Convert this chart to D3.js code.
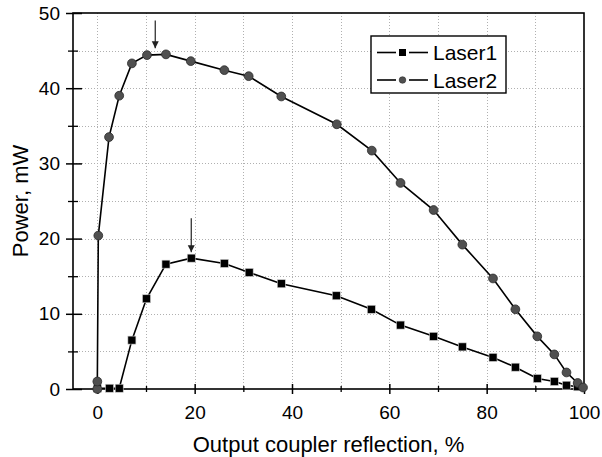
<!DOCTYPE html>
<html><head><meta charset="utf-8">
<script src="https://cdn.jsdelivr.net/npm/d3@7"></script>
<style>
html,body{margin:0;padding:0;background:#fff;}
svg{display:block;font-family:"Liberation Sans",Arial,sans-serif;}
</style></head>
<body><svg id="c" width="602" height="457"></svg>
<script>
const laser1X = [0, 2.5, 4.5, 7.1, 10.1, 14.1, 19.3, 26.1, 31.2, 37.8, 49.1, 56.3, 62.3, 69.1, 75.0, 81.3, 85.9, 90.4, 93.9, 96.4, 98.7];
const laser1Y = [0.1, 0.1, 0.1, 6.5, 12.0, 16.6, 17.4, 16.7, 15.5, 14.0, 12.4, 10.6, 8.5, 7.0, 5.6, 4.2, 2.9, 1.4, 1.0, 0.5, 0.3];
const laser2X = [0, 0, 0.2, 2.4, 4.5, 7.1, 10.2, 14.1, 19.2, 26.1, 31.1, 37.8, 49.2, 56.4, 62.3, 69.1, 75.0, 81.3, 85.9, 90.4, 93.9, 96.4, 98.7, 99.8];
const laser2Y = [0, 1.0, 20.4, 33.5, 39.0, 43.3, 44.4, 44.5, 43.6, 42.4, 41.6, 38.9, 35.2, 31.7, 27.4, 23.8, 19.2, 14.7, 10.6, 7.0, 4.6, 2.2, 0.8, 0.2];
const seriesNames = ["Laser1", "Laser2"];
const xTicks = [0, 20, 40, 60, 80, 100];
const xMinor = [-5, 10, 30, 50, 70, 90];
const yTicks = [0, 10, 20, 30, 40, 50];
const yMinor = [5, 15, 25, 35, 45];
const arrowX = [11.9, 19.3];
const arrowTop = [49.0, 22.7];
const arrowBottom = [45.3, 18.2];
const xTitle = "Output coupler reflection, %";
const yTitle = "Power, mW";

const svg = d3.select("#c");
const L = 73, R = 584, T = 13, B = 389;
const x = d3.scaleLinear().domain([-5, 100]).range([L, R]);
const y = d3.scaleLinear().domain([0, 50]).range([B, T]);

const defs = svg.append("defs");
defs.append("marker").attr("id","ah").attr("viewBox","0 0 10 10").attr("refX",10).attr("refY",5)
  .attr("markerWidth",7).attr("markerHeight",9).attr("markerUnits","userSpaceOnUse").attr("orient","auto")
  .append("path").attr("d","M0,0L10,5L0,10Z").attr("fill","#222");

// grid
const grid = svg.append("g").attr("stroke","#b0b0b0").attr("stroke-width",1).attr("stroke-dasharray","1,2");
d3.range(0, 100, 10).forEach(v => grid.append("line").attr("x1",Math.round(x(v))+0.5).attr("x2",Math.round(x(v))+0.5).attr("y1",T).attr("y2",B));
d3.range(5, 50, 5).forEach(v => grid.append("line").attr("y1",Math.round(y(v))+0.5).attr("y2",Math.round(y(v))+0.5).attr("x1",L).attr("x2",R));

// frame
svg.append("rect").attr("x",L).attr("y",T).attr("width",R-L).attr("height",B-T)
  .attr("fill","none").attr("stroke","#000").attr("stroke-width",1.6);

// axes ticks via d3 axes
const xAx = svg.append("g").attr("transform",`translate(0,${B})`)
  .call(d3.axisBottom(x).tickValues(xTicks).tickSize(5).tickSizeInner(5).tickPadding(12).tickFormat(d3.format("d")));
xAx.select(".domain").remove();
xAx.selectAll(".tick line").attr("y1",-5).attr("y2",5).attr("stroke-width",1.5);
xAx.selectAll("text").attr("font-size",19).attr("fill","#000").attr("font-family","Liberation Sans, Arial, sans-serif");
const xAxm = svg.append("g").attr("transform",`translate(0,${B})`)
  .call(d3.axisBottom(x).tickValues(xMinor.filter(v=>v>-5)).tickSize(3).tickFormat(""));
xAxm.select(".domain").remove();
xAxm.selectAll(".tick line").attr("y1",-3).attr("y2",3).attr("stroke-width",1.3);

const yAx = svg.append("g").attr("transform",`translate(${L},0)`)
  .call(d3.axisLeft(y).tickValues(yTicks).tickSize(7).tickPadding(6).tickFormat(d3.format("d")));
yAx.select(".domain").remove();
yAx.selectAll(".tick line").attr("x1",-7).attr("x2",9).attr("stroke-width",1.5);
yAx.selectAll("text").attr("font-size",19).attr("fill","#000").attr("font-family","Liberation Sans, Arial, sans-serif");
const yAxm = svg.append("g").attr("transform",`translate(${L},0)`)
  .call(d3.axisLeft(y).tickValues(yMinor).tickSize(5).tickFormat(""));
yAxm.select(".domain").remove();
yAxm.selectAll(".tick line").attr("x1",-5).attr("x2",5).attr("stroke-width",1.3);

// titles
svg.append("text").attr("x",(L+R)/2).attr("y",452).attr("text-anchor","middle")
  .attr("font-size",22).text(xTitle);
svg.append("text").attr("transform",`translate(28,${(T+B)/2}) rotate(-90)`).attr("text-anchor","middle")
  .attr("font-size",22).text(yTitle);

const line = d3.line().x(d=>x(d[0])).y(d=>y(d[1]));
const d1 = laser1X.map((v,i)=>[v, laser1Y[i]]);
const d2 = laser2X.map((v,i)=>[v, laser2Y[i]]);

svg.append("path").datum(d1).attr("d",line).attr("fill","none").attr("stroke","#000").attr("stroke-width",1.6);
svg.selectAll(".sq").data(d1).enter().append("rect")
  .attr("x",d=>x(d[0])-4).attr("y",d=>y(d[1])-4).attr("width",8).attr("height",8)
  .attr("fill","#000").attr("stroke","#ccc").attr("stroke-width",0.6);

svg.append("path").datum(d2).attr("d",line).attr("fill","none").attr("stroke","#000").attr("stroke-width",1.6);
svg.selectAll(".ci").data(d2).enter().append("circle")
  .attr("cx",d=>x(d[0])).attr("cy",d=>y(d[1])).attr("r",4.4)
  .attr("fill","#505050").attr("stroke","#2a2a2a").attr("stroke-width",0.8);

// arrows
arrowX.forEach((ax,i)=>{
  svg.append("line").attr("x1",x(ax)).attr("x2",x(ax)).attr("y1",y(arrowTop[i])).attr("y2",y(arrowBottom[i]))
    .attr("stroke","#222").attr("stroke-width",1.2).attr("marker-end","url(#ah)");
});

// legend
const lg = svg.append("g");
lg.append("rect").attr("x",371).attr("y",36).attr("width",135).attr("height",57)
  .attr("fill","#fff").attr("stroke","#000").attr("stroke-width",1.4);
seriesNames.forEach((nm,i)=>{
  const yy = 52.5 + i*27.5;
  lg.append("line").attr("x1",377).attr("x2",396).attr("y1",yy).attr("y2",yy).attr("stroke","#000").attr("stroke-width",1.6);
  lg.append("line").attr("x1",409).attr("x2",428).attr("y1",yy).attr("y2",yy).attr("stroke","#000").attr("stroke-width",1.6);
  if(i===0) lg.append("rect").attr("x",399).attr("y",yy-3.5).attr("width",7).attr("height",7).attr("fill","#000");
  else lg.append("circle").attr("cx",402.5).attr("cy",yy).attr("r",3.3).attr("fill","#505050").attr("stroke","#2a2a2a").attr("stroke-width",0.6);
  lg.append("text").attr("x",433).attr("y",yy+7.5).attr("font-size",21).text(nm);
});
</script></body></html>
